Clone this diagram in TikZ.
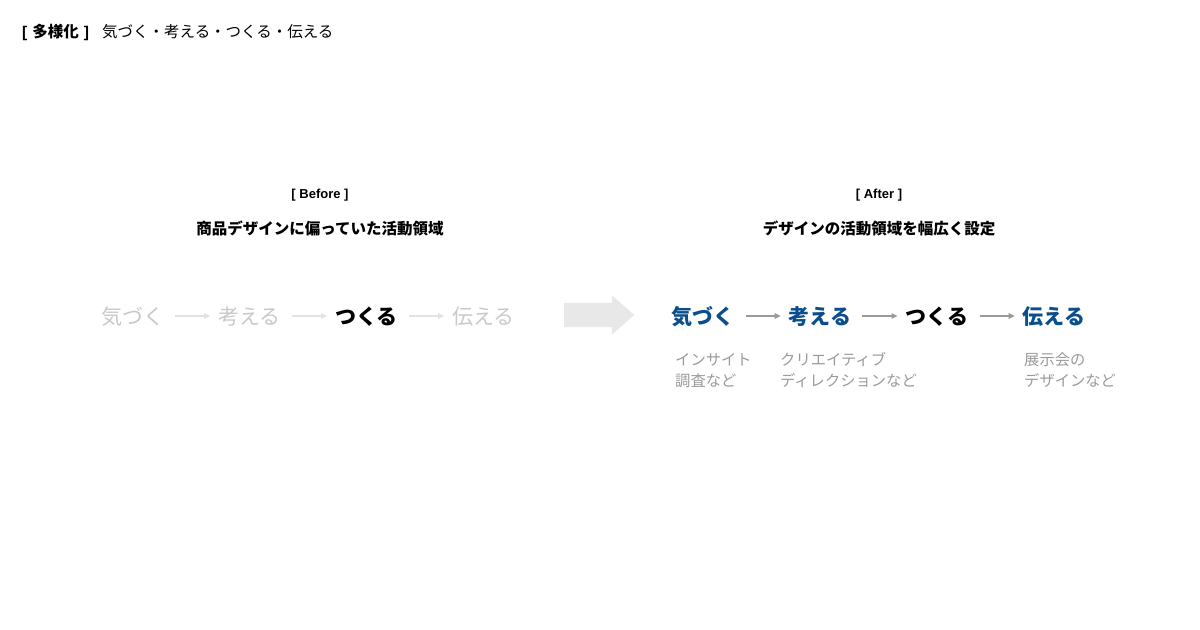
\documentclass[tikz,border=0pt]{standalone}
\usepackage{fontspec}
\setmainfont{Noto Sans CJK JP}
\newfontfamily\latinfont{Liberation Sans}
\usepackage{tikz}
\usetikzlibrary{shapes.arrows, arrows.meta, positioning}
\definecolor{stageblue}{HTML}{0B4E8C}
\definecolor{fadetext}{HTML}{C8C8C8}
\definecolor{fadeline}{HTML}{E2E2E2}
\definecolor{notegray}{HTML}{9A9A9A}
\definecolor{bigarrow}{HTML}{E8E8E8}
\tikzstyle{word} = [inner sep=0pt, text height=18.5bp, text depth=2.5bp, font=\fontsize{21bp}{21bp}\selectfont]
\tikzstyle{faded} = [word, text=fadetext]
\tikzstyle{strong} = [word, font=\fontsize{21bp}{21bp}\selectfont\bfseries]
\tikzstyle{note} = [inner sep=0pt, anchor=base west, align=left, text=notegray, font=\fontsize{15.3bp}{21bp}\selectfont]
\tikzstyle{heading} = [inner sep=0pt, text height=13.6bp, text depth=1.9bp, font=\fontsize{15.5bp}{15.5bp}\selectfont\bfseries]
\tikzstyle{tag} = [inner sep=0pt, font=\fontsize{13bp}{13bp}\selectfont\latinfont\bfseries]
\tikzstyle{arrow} = [line width=1.3bp, -{Triangle[length=6bp,width=5.5bp]}, shorten <=11bp, shorten >=8bp]

\begin{document}
\begin{tikzpicture}[x=1bp, y=-1bp, node distance=117bp]
\useasboundingbox (0,0) rectangle (1200,630);

% Title
\node (title) [anchor=west, inner sep=0pt, text height=13.6bp, text depth=1.9bp, font=\fontsize{15.5bp}{15.5bp}\selectfont\bfseries] at (22,32) {{\latinfont [\kern1.5bp} 多様化 {\latinfont \kern1.5bp]}};
\node (topic) [anchor=west, inner sep=0pt, text height=13.6bp, text depth=1.9bp, font=\fontsize{15.5bp}{15.5bp}\selectfont] at (102,32) {気づく・考える・つくる・伝える};

% Before
\node (beforetag) [tag] at (320,195.5) {[ Before ]};
\node (beforehead) [heading] at (320,229) {商品デザインに偏っていた活動領域};
\node (b1) [faded] at (132.5,316) {気づく};
\node (b2) [faded, right of=b1] {考える};
\node (b3) [strong, right of=b2] {つくる};
\node (b4) [faded, right of=b3] {伝える};

% Change
\node (shift) [single arrow, fill=bigarrow, inner xsep=0pt, inner ysep=12bp, minimum height=70bp, single arrow head extend=7.5bp, single arrow head indent=0pt, single arrow tip angle=83, anchor=tail] at (564,315) {};

% After
\node (aftertag) [tag] at (879,195.5) {[ After ]};
\node (afterhead) [heading] at (879,229) {デザインの活動領域を幅広く設定};
\node (a1) [strong, text=stageblue] at (703,316) {気づく};
\node (a2) [strong, text=stageblue, right of=a1] {考える};
\node (a3) [strong, right of=a2] {つくる};
\node (a4) [strong, text=stageblue, right of=a3] {伝える};

% Notes
\node (n1) [note] at (675,386.5) {インサイト\\調査など};
\node (n2) [note] at (780,386.5) {クリエイティブ\\ディレクションなど};
\node (n4) [note] at (1024,386.5) {展示会の\\デザインなど};

% Arrows
\draw [arrow, fadeline] (b1) -- (b2);
\draw [arrow, fadeline] (b2) -- (b3);
\draw [arrow, fadeline] (b3) -- (b4);
\draw [arrow, notegray] (a1) -- (a2);
\draw [arrow, notegray] (a2) -- (a3);
\draw [arrow, notegray] (a3) -- (a4);

\end{tikzpicture}
\end{document}
